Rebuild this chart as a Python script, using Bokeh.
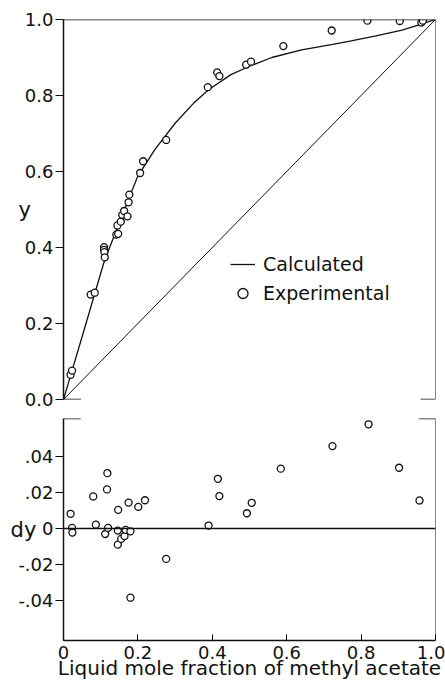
from bokeh.plotting import figure
from bokeh.models import (Range1d, FixedTicker, Span, Legend, LegendItem,
                          NumeralTickFormatter)
from bokeh.layouts import column
from bokeh.embed import file_html
from bokeh.resources import INLINE

# ---------------- data ----------------
# calculated x-y curve
x_calc = [0, 0.02, 0.05, 0.08, 0.11, 0.14, 0.17, 0.20, 0.245, 0.30, 0.35, 0.39,
          0.45, 0.50, 0.56, 0.64, 0.72, 0.77, 0.84, 0.91, 0.96, 1.0]
y_calc = [0, 0.066, 0.165, 0.265, 0.365, 0.44, 0.515, 0.588, 0.657, 0.727, 0.780,
          0.815, 0.855, 0.877, 0.900, 0.920, 0.934, 0.943, 0.957, 0.972, 0.987, 1.0]
# diagonal y = x
x_diag = [0, 1]
y_diag = [0, 1]
# experimental points
x_exp = [0.019, 0.023, 0.073, 0.084, 0.109, 0.109, 0.110, 0.111, 0.142, 0.147, 0.145,
         0.154, 0.158, 0.163, 0.172, 0.175, 0.177, 0.206, 0.214, 0.276, 0.388, 0.413,
         0.419, 0.491, 0.504, 0.591, 0.721, 0.817, 0.904, 0.962, 0.966]
y_exp = [0.065, 0.076, 0.276, 0.281, 0.401, 0.394, 0.388, 0.374, 0.434, 0.436, 0.458,
         0.468, 0.486, 0.496, 0.482, 0.519, 0.539, 0.596, 0.627, 0.683, 0.822, 0.861,
         0.851, 0.881, 0.889, 0.930, 0.971, 0.997, 0.996, 0.992, 0.997]
# deviations
x_dev = [0.118, 0.117, 0.080, 0.019, 0.023, 0.024, 0.087, 0.112, 0.120, 0.147, 0.146,
         0.146, 0.155, 0.164, 0.167, 0.180, 0.175, 0.201, 0.219, 0.180, 0.276, 0.390,
         0.415, 0.419, 0.493, 0.506, 0.584, 0.723, 0.820, 0.902, 0.957]
dy_dev = [0.0307, 0.0217, 0.0178, 0.0082, 0.0004, -0.0022, 0.0022, -0.0030, 0.0004,
          0.0104, -0.0011, -0.0089, -0.0057, -0.0041, -0.0007, -0.0015, 0.0144, 0.0120,
          0.0157, -0.0383, -0.0168, 0.0017, 0.0276, 0.0180, 0.0085, 0.0143, 0.0332,
          0.0457, 0.0578, 0.0337, 0.0156]

y_ticks = [0.0, 0.2, 0.4, 0.6, 0.8, 1.0]
x_ticks = [0.0, 0.2, 0.4, 0.6, 0.8, 1.0]
x_tick_labels = ["0", "0.2", "0.4", "0.6", "0.8", "1.0"]
dy_ticks = [-0.04, -0.02, 0.0, 0.02, 0.04]
dy_tick_labels = ["-.04", "-.02", "0", ".02", ".04"]

FONT = "DejaVu Sans"
INK = "#111111"

# ---------------- top plot ----------------
p1 = figure(width=445, height=411, x_range=Range1d(0, 1), y_range=Range1d(0, 1),
            output_backend="svg", toolbar_location=None,
            min_border_left=63, min_border_right=10, min_border_top=19, min_border_bottom=12)
p1.outline_line_color = None
p1.grid.visible = False
p1.xaxis.visible = False
p1.background_fill_color = "white"
p1.border_fill_color = "white"

ya = p1.yaxis[0]
ya.ticker = FixedTicker(ticks=y_ticks)
ya.formatter = NumeralTickFormatter(format="0.0")
ya.major_tick_out = 8
ya.major_tick_in = 0
ya.minor_tick_out = 0
ya.minor_tick_in = 0
ya.major_label_standoff = 2
ya.major_label_text_font = FONT
ya.major_label_text_font_size = "18px"
ya.major_label_text_color = INK
ya.axis_line_width = 1.5
ya.axis_line_color = INK
ya.major_tick_line_color = INK
ya.axis_label = "y"
ya.axis_label_orientation = "horizontal"
ya.axis_label_standoff = -9
ya.axis_label_text_font = FONT
ya.axis_label_text_font_size = "21px"
ya.axis_label_text_font_style = "normal"
ya.axis_label_text_color = INK

# frame edges
p1.add_layout(Span(location=1, dimension="width", line_color=INK, line_width=1.5))
p1.add_layout(Span(location=1, dimension="height", line_color=INK, line_width=1))
p1.segment(x0=[0, 0.96], y0=[0, 0], x1=[0.047, 1.0], y1=[0, 0], line_color=INK, line_width=1.5)

p1.line(x_diag, y_diag, line_color=INK, line_width=1)
r_line = p1.line(x_calc, y_calc, line_color=INK, line_width=1.3)
r_pts = p1.scatter(x_exp, y_exp, marker="circle", size=7, line_color=INK, line_width=1.3,
                   fill_color="white")

legend = Legend(items=[LegendItem(label="Calculated", renderers=[r_line]),
                       LegendItem(label="Experimental", renderers=[r_pts])],
                location=(167, 93), padding=0, margin=0, spacing=3,
                glyph_width=25, label_standoff=8, label_height=26, glyph_height=26,
                border_line_color=None, background_fill_alpha=0,
                label_text_font=FONT, label_text_font_size="19px", label_text_color=INK)
p1.add_layout(legend)

# ---------------- bottom plot ----------------
p2 = figure(width=445, height=276, x_range=Range1d(0, 1), y_range=Range1d(-0.062, 0.061),
            output_backend="svg", toolbar_location=None,
            min_border_left=63, min_border_right=10, min_border_top=7, min_border_bottom=47)
p2.outline_line_color = None
p2.grid.visible = False
p2.background_fill_color = "white"
p2.border_fill_color = "white"

ya2 = p2.yaxis[0]
ya2.ticker = FixedTicker(ticks=dy_ticks)
ya2.major_label_overrides = {t: s for t, s in zip(dy_ticks, dy_tick_labels)}
ya2.major_tick_out = 8
ya2.major_tick_in = 0
ya2.minor_tick_out = 0
ya2.minor_tick_in = 0
ya2.major_label_standoff = 2
ya2.major_label_text_font = FONT
ya2.major_label_text_font_size = "18px"
ya2.major_label_text_color = INK
ya2.axis_line_width = 1.5
ya2.axis_line_color = INK
ya2.axis_label = "dy"
ya2.axis_label_orientation = "horizontal"
ya2.axis_label_standoff = -21
ya2.axis_label_text_font = FONT
ya2.axis_label_text_font_size = "21px"
ya2.axis_label_text_font_style = "normal"
ya2.axis_label_text_color = INK

xa2 = p2.xaxis[0]
xa2.ticker = FixedTicker(ticks=x_ticks)
xa2.major_label_overrides = {t: s for t, s in zip(x_ticks, x_tick_labels)}
xa2.major_tick_out = 0
xa2.major_tick_in = 6
xa2.minor_tick_out = 0
xa2.minor_tick_in = 0
xa2.major_label_standoff = 5
xa2.major_label_text_font = FONT
xa2.major_label_text_font_size = "18px"
xa2.major_label_text_color = INK
xa2.axis_line_width = 1.5
xa2.axis_line_color = INK
xa2.axis_label = "Liquid mole fraction of methyl acetate"
xa2.axis_label_text_font = FONT
xa2.axis_label_text_font_size = "20px"
xa2.axis_label_text_font_style = "normal"
xa2.axis_label_text_color = INK
xa2.axis_label_standoff = -6

p2.add_layout(Span(location=1, dimension="height", line_color=INK, line_width=1))
p2.add_layout(Span(location=0, dimension="width", line_color=INK, line_width=1.5))
p2.segment(x0=[0, 0.955], y0=[0.061, 0.061], x1=[0.046, 1.0], y1=[0.061, 0.061],
           line_color=INK, line_width=1.5)

p2.scatter(x_dev, dy_dev, marker="circle", size=7, line_color=INK, line_width=1.3,
           fill_color="white")

layout = column(p1, p2, spacing=0)
open("out.html", "w").write(file_html(layout, INLINE))
